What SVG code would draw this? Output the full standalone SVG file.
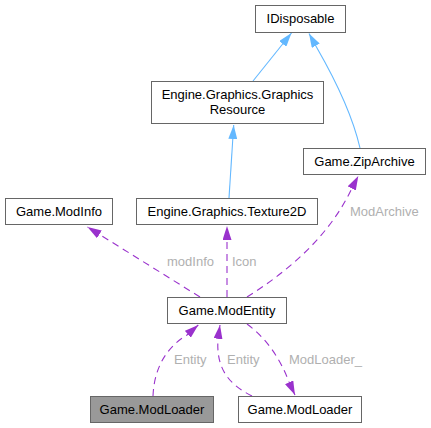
<svg xmlns="http://www.w3.org/2000/svg" width="431" height="428" viewBox="0 0 431 428">
<style>
  .node rect { fill: #ffffff; stroke: #666666; stroke-width: 1; }
  .node.hl rect { fill: #999999; }
  .node text { font-family: "Liberation Sans", Arial, sans-serif; font-size: 13px; fill: #000000; text-anchor: middle; }
  .inh { fill: none; stroke: #63b8ff; stroke-width: 1.1; marker-end: url(#ab); }
  .use { fill: none; stroke: #9a32cd; stroke-width: 1.1; stroke-dasharray: 7,5; marker-end: url(#ap); }
  .lbl { font-family: "Liberation Sans", Arial, sans-serif; font-size: 13px; fill: #b0b0b0; }
</style>
<defs>
  <marker id="ab" viewBox="0 0 14 9" refX="14" refY="4.5" markerWidth="14" markerHeight="9" markerUnits="userSpaceOnUse" orient="auto">
    <path d="M0,0 L14,4.5 L0,9 Z" fill="#63b8ff"/>
  </marker>
  <marker id="ap" viewBox="0 0 14 9" refX="14" refY="4.5" markerWidth="14" markerHeight="9" markerUnits="userSpaceOnUse" orient="auto">
    <path d="M0,0 L14,4.5 L0,9 Z" fill="#9a32cd"/>
  </marker>
</defs>
<rect width="431" height="428" fill="#ffffff"/>
<g id="connectors">
  <path class="inh" d="M253,81 L291.5,33"/>
  <path class="inh" d="M360,148 C354,122 340,88 317,48 L309,33.5"/>
  <path class="inh" d="M229,198 L233.7,125"/>
  <path class="use" d="M200,297 L87.5,227"/>
  <path class="use" d="M227,297 L227,226"/>
  <path class="use" d="M247,297 C290,270 330,235 352,188 L358.3,176"/>
  <path class="use" d="M153,396 C154,370 165,348 187,335 L198.3,325"/>
  <path class="use" d="M252,396 C228,384 216,368 218,339 L220,325"/>
  <path class="use" d="M247,324 C266,338 280,358 289,382 L295,395"/>
  <text class="lbl" x="167" y="266">modInfo</text>
  <text class="lbl" x="232" y="266">Icon</text>
  <text class="lbl" x="350" y="216">ModArchive</text>
  <text class="lbl" x="174" y="364">Entity</text>
  <text class="lbl" x="227" y="364">Entity</text>
  <text class="lbl" x="289" y="364">ModLoader_</text>
</g>
<g id="IDisposable" class="node">
  <rect x="255.5" y="5.5" width="90" height="27"/>
  <text x="300.5" y="23">IDisposable</text>
</g>
<g id="GraphicsResource" class="node">
  <rect x="151.5" y="81.5" width="172" height="42"/>
  <text x="237.5" y="99">Engine.Graphics.Graphics</text>
  <text x="237.5" y="114">Resource</text>
</g>
<g id="ZipArchive" class="node">
  <rect x="303.5" y="148.5" width="122" height="26"/>
  <text x="364.5" y="166">Game.ZipArchive</text>
</g>
<g id="ModInfo" class="node">
  <rect x="5.5" y="198.5" width="107" height="26"/>
  <text x="59" y="216">Game.ModInfo</text>
</g>
<g id="Texture2D" class="node">
  <rect x="136.5" y="198.5" width="181" height="26"/>
  <text x="227" y="216">Engine.Graphics.Texture2D</text>
</g>
<g id="ModEntity" class="node">
  <rect x="167.5" y="297.5" width="119" height="26"/>
  <text x="227" y="315">Game.ModEntity</text>
</g>
<g id="ModLoaderSelf" class="node hl">
  <rect x="90.5" y="396.5" width="123" height="26"/>
  <text x="152" y="414">Game.ModLoader</text>
</g>
<g id="ModLoader" class="node">
  <rect x="238.5" y="396.5" width="123" height="26"/>
  <text x="300" y="414">Game.ModLoader</text>
</g>
</svg>
